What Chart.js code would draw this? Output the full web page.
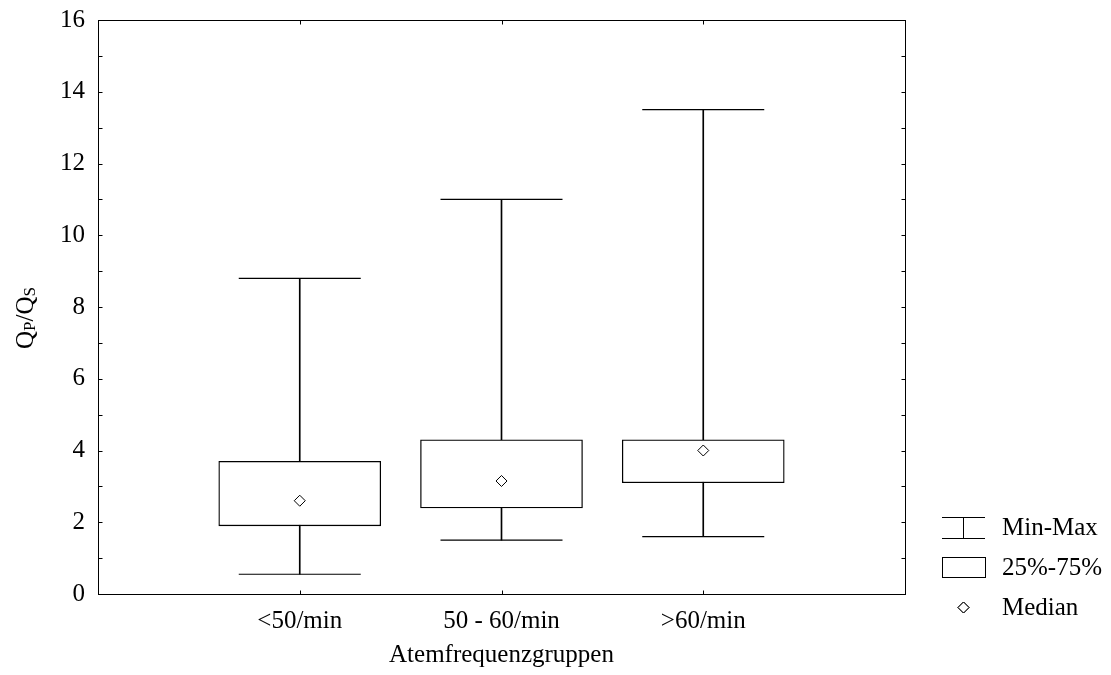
<!DOCTYPE html>
<html>
<head>
<meta charset="utf-8">
<script src="https://cdn.jsdelivr.net/npm/chart.js@4"></script>
<style>
  body { margin: 0; background: #fff; }
  canvas { display: block; }
</style>
</head>
<body>
<canvas id="chart" width="1111" height="675"></canvas>
<script>
// daten
const categories = ['<50/min', '50 - 60/min', '>60/min'];
const minVals = [0.55, 1.5, 1.6];
const q1Vals = [1.9, 2.4, 3.1];
const medianVals = [2.6, 3.15, 4.0];
const q3Vals = [3.7, 4.3, 4.3];
const maxVals = [8.8, 11.0, 13.5];
const yMin = 0, yMax = 16, yStep = 2;
const legendLabels = ['Min-Max', '25%-75%', 'Median'];

const FONT = '"Liberation Serif", "Times New Roman", serif';

// leere randkategorien, damit die gruppen wie im original bei 1/4, 2/4, 3/4 liegen
const labels = [' ', ...categories, '  '];
const pad = arr => [null, ...arr, null];

const whiskerData = pad(categories.map((c, i) => [minVals[i], maxVals[i]]));
const boxData = pad(categories.map((c, i) => [q1Vals[i], q3Vals[i]]));
const capData = [];
categories.forEach((c, i) => {
    capData.push({ x: c, y: minVals[i] });
    capData.push({ x: c, y: maxVals[i] });
});
const medianData = categories.map((c, i) => ({ x: c, y: medianVals[i] }));

// rahmen, innere ticks, y-titel und legende
const extras = {
    id: 'extras',
    afterDraw(chart) {
        const ctx = chart.ctx;
        const a = chart.chartArea;
        const xs = chart.scales.x, ys = chart.scales.y;
        ctx.save();
        ctx.strokeStyle = '#000';
        ctx.lineWidth = 1;
        const L = Math.round(a.left) + 0.5, R = Math.round(a.right) + 0.5;
        const T = Math.round(a.top) + 0.5, B = Math.round(a.bottom) + 0.5;
        ctx.strokeRect(L, T, R - L, B - T);

        ctx.beginPath();
        for (let v = yMin; v <= yMax; v++) {
            const y = Math.round(ys.getPixelForValue(v)) + 0.5;
            ctx.moveTo(L, y); ctx.lineTo(L + 4, y);
            ctx.moveTo(R, y); ctx.lineTo(R - 4, y);
        }
        categories.forEach(c => {
            const x = Math.round(xs.getPixelForValue(labels.indexOf(c))) + 0.5;
            ctx.moveTo(x, B); ctx.lineTo(x, B - 4);
            ctx.moveTo(x, T); ctx.lineTo(x, T + 4);
        });
        ctx.stroke();

        // y-achsentitel mit tiefgestellten buchstaben
        ctx.fillStyle = '#000';
        ctx.translate(26, 318);
        ctx.rotate(-Math.PI / 2);
        const parts = [['Q', 25, 0], ['P', 17, 5], ['/Q', 25, 0], ['S', 17, 5]];
        let w = 0;
        parts.forEach(p => { ctx.font = p[1] + 'px ' + FONT; w += ctx.measureText(p[0]).width; });
        let cx = -w / 2;
        ctx.textBaseline = 'middle';
        parts.forEach(p => {
            ctx.font = p[1] + 'px ' + FONT;
            ctx.fillText(p[0], cx, p[2]);
            cx += ctx.measureText(p[0]).width;
        });
        ctx.restore();

        // legende
        ctx.save();
        ctx.strokeStyle = '#000';
        ctx.lineWidth = 1;
        const lx0 = 942, lx1 = 985, lmid = 963.5;
        ctx.beginPath();
        ctx.moveTo(lx0, 517.5); ctx.lineTo(lx1, 517.5);
        ctx.moveTo(lx0, 538.5); ctx.lineTo(lx1, 538.5);
        ctx.moveTo(lmid, 517.5); ctx.lineTo(lmid, 538.5);
        ctx.stroke();
        ctx.strokeRect(lx0 + 0.5, 557.5, lx1 - lx0, 20);
        Chart.helpers.drawPoint(ctx, { pointStyle: 'rectRot', radius: 5.5, borderWidth: 1 }, lmid, 607.5);
        ctx.fillStyle = '#fff';
        ctx.fill();
        ctx.stroke();
        ctx.fillStyle = '#000';
        ctx.font = '25px ' + FONT;
        ctx.textBaseline = 'middle';
        ctx.fillText(legendLabels[0], 1002, 528);
        ctx.fillText(legendLabels[1], 1002, 568);
        ctx.fillText(legendLabels[2], 1002, 608);
        ctx.restore();
    }
};

new Chart(document.getElementById('chart'), {
    data: {
        labels: labels,
        datasets: [
            {
                type: 'bar',
                data: whiskerData,
                grouped: false,
                barThickness: 1,
                backgroundColor: '#000',
                borderWidth: 0,
                order: 3
            },
            {
                type: 'bar',
                data: boxData,
                grouped: false,
                barThickness: 162,
                backgroundColor: '#fff',
                borderColor: '#000',
                borderWidth: 1.3,
                borderSkipped: false,
                order: 2
            },
            {
                type: 'line',
                data: capData,
                showLine: false,
                pointStyle: 'line',
                pointRadius: 61,
                pointBorderColor: '#000',
                pointBorderWidth: 1.2,
                order: 1
            },
            {
                type: 'line',
                data: medianData,
                showLine: false,
                pointStyle: 'rectRot',
                pointRadius: 5.5,
                pointBackgroundColor: '#fff',
                pointBorderColor: '#000',
                pointBorderWidth: 1,
                order: 0
            }
        ]
    },
    options: {
        responsive: false,
        animation: false,
        events: [],
        layout: { autoPadding: false, padding: { left: 0, right: 206, top: 20, bottom: 0 } },
        plugins: {
            legend: { display: false },
            tooltip: { enabled: false }
        },
        scales: {
            x: {
                type: 'category',
                offset: false,
                grid: { display: false, drawTicks: false },
                border: { display: false },
                ticks: {
                    color: '#000',
                    font: { family: FONT, size: 25 },
                    padding: 12,
                    autoSkip: false,
                    maxRotation: 0
                },
                title: {
                    display: true,
                    text: 'Atemfrequenzgruppen',
                    color: '#000',
                    font: { family: FONT, size: 25 },
                    padding: { top: 5, bottom: 5 }
                },
                afterFit(s) { s.height = 81; s.paddingLeft = 0; s.paddingRight = 0; }
            },
            y: {
                min: yMin,
                max: yMax,
                grid: { display: false, drawTicks: false },
                border: { display: false },
                ticks: {
                    stepSize: yStep,
                    color: '#000',
                    font: { family: FONT, size: 25 },
                    padding: 13
                },
                afterFit(s) { s.width = 98; s.paddingTop = 0; s.paddingBottom = 0; }
            }
        }
    },
    plugins: [extras]
});
</script>
</body>
</html>
